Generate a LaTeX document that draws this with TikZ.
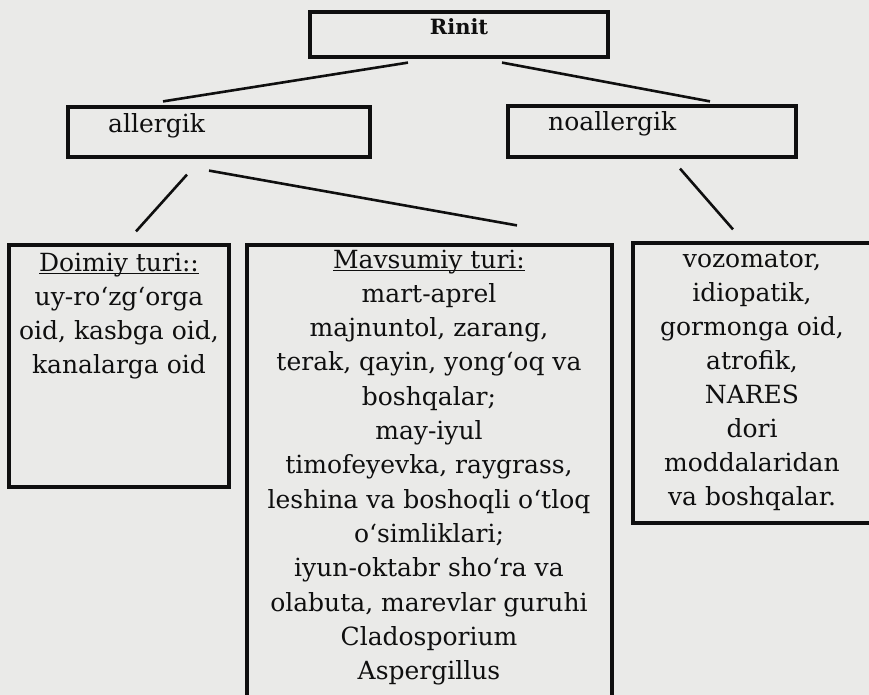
\documentclass[tikz,border=0pt]{standalone}
\usepackage{fontspec}
\setmainfont{DejaVu Serif}
\definecolor{bgcol}{RGB}{234,234,232}
\definecolor{ink}{RGB}{15,15,15}
\newcommand{\ulhead}[1]{\setbox0=\hbox{#1}\rlap{\rule[-3pt]{\wd0}{1.5pt}}\box0}
\tikzset{
  box/.style={draw=ink, line width=3.2pt, inner sep=0pt},
  conn/.style={draw=ink, line width=2.6pt},
  txt/.style={text=ink, font=\fontsize{25}{34}\selectfont, align=center, inner sep=0pt, anchor=base},
}
\begin{document}
\begin{tikzpicture}[x=1pt, y=-1pt]
\useasboundingbox (0,0) rectangle (869,695);
\clip (0,0) rectangle (869,695);
\fill[bgcol] (0,0) rectangle (869,695);

% boxes
\node[box, minimum width=298pt, minimum height=45pt] (rinit) at (459,34.5) {};
\node[box, minimum width=302pt, minimum height=50pt] (allergik) at (219,132) {};
\node[box, minimum width=288pt, minimum height=51pt] (noallergik) at (652,131.5) {};
\node[box, minimum width=220pt, minimum height=242pt] (doimiy) at (119,366) {};
\node[box, minimum width=365pt, minimum height=460pt] (mavsumiy) at (429.5,475) {};
\node[box, minimum width=239pt, minimum height=280pt] (noall2) at (752.5,383) {};

% texts (multi-line nodes: base anchor = last line's baseline)
\node[txt] (rinitT) at (459,35) {\fontsize{21}{24}\selectfont\bfseries Rinit};
\node[txt, anchor=base west] (allergikT) at (108,133) {allergik};
\node[txt, anchor=base west] (noallergikT) at (548,131) {noallergik};
\node[txt] (doimiyT) at (119,373) {\ulhead{Doimiy turi::}\\uy-ro‘zg‘orga\\oid, kasbga oid,\\kanalarga oid};
\node[txt, font=\fontsize{25}{34.3}\selectfont] (mavsumiyT) at (429,679.6) {\ulhead{Mavsumiy turi:}\\mart-aprel\\majnuntol, zarang,\\terak, qayin, yong‘oq va\\boshqalar;\\may-iyul\\timofeyevka, raygrass,\\leshina va boshoqli o‘tloq\\o‘simliklari;\\iyun-oktabr sho‘ra va\\olabuta, marevlar guruhi\\Cladosporium\\Aspergillus};
\node[txt] (noall2T) at (752,505) {vozomator,\\idiopatik,\\gormonga oid,\\atrofik,\\NARES\\dori\\moddalaridan\\va boshqalar.};

% connectors
\draw[conn] ([xshift=-51pt,yshift=-4pt]rinit.south) -- ([xshift=-56pt,yshift=4pt]allergik.north);
\draw[conn] ([xshift=43pt,yshift=-4pt]rinit.south) -- ([xshift=58pt,yshift=3pt]noallergik.north);
\draw[conn] ([xshift=-32pt,yshift=-16pt]allergik.south) -- ([xshift=17pt,yshift=12pt]doimiy.north);
\draw[conn] ([xshift=-10pt,yshift=-12pt]allergik.south) -- ([xshift=87.5pt,yshift=18pt]mavsumiy.north);
\draw[conn] ([xshift=28pt,yshift=-10pt]noallergik.south) -- ([xshift=-19.5pt,yshift=12pt]noall2.north);
\end{tikzpicture}
\end{document}
